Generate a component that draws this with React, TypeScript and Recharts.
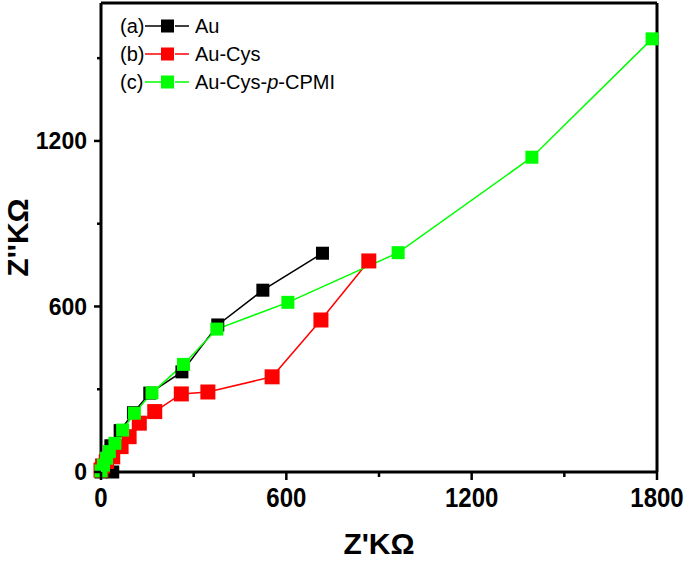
import React from 'react';
import { LineChart, Line, XAxis, YAxis, ReferenceLine } from 'recharts';

// Nyquist data (Z' vs Z'', kOhm)
const auX = [0, 38, 14, 32, 62, 105, 158, 262, 378, 524, 717];
const auY = [0, 0, 40, 95, 150, 215, 286, 363, 533, 659, 793];

const cysX = [0, 5, 18, 38, 65, 91, 124, 174, 260, 346, 554, 712, 867];
const cysY = [7, 22, 38, 55, 92, 128, 177, 219, 283, 290, 345, 551, 765];

const cpmiX = [0, 8, 18, 27, 45, 70, 108, 165, 267, 375, 605, 962, 1395, 1784];
const cpmiY = [4, 25, 50, 74, 104, 152, 213, 287, 390, 518, 615, 795, 1141, 1570];

const xTicks = [0, 300, 600, 900, 1200, 1500, 1800];
const xMajor = [0, 600, 1200, 1800];
const yTicks = [0, 300, 600, 900, 1200, 1500];
const yMajor = [0, 600, 1200];

const toPoints = (xs: number[], ys: number[]) => xs.map((x, i) => ({ x, y: ys[i] }));

const SERIES = [
    { key: 'au', tag: '(a)', name: 'Au', color: '#000000', size: 13, data: toPoints(auX, auY) },
    { key: 'cys', tag: '(b)', name: 'Au-Cys', color: '#ff0000', size: 15, data: toPoints(cysX, cysY) },
    { key: 'cpmi', tag: '(c)', name: 'Au-Cys-p-CPMI', color: '#00ff00', size: 13, data: toPoints(cpmiX, cpmiY) },
];

const FONT = '"Liberation Sans", Arial, sans-serif';

const squareDot = (color: string, size: number) => (props: any) => {
    const { cx, cy, index } = props;
    if (cx == null || cy == null) return <g key={`d-${index}`} />;
    return <rect key={`d-${index}`} x={cx - size / 2} y={cy - size / 2} width={size} height={size} fill={color} />;
};

const XTick = (props: any) => {
    const { x, y, payload } = props;
    const major = xMajor.includes(payload.value);
    return (
        <g>
            <line x1={x} x2={x} y1={y} y2={y + (major ? 8 : 5)} stroke="#000" strokeWidth={2.5} />
            {major && (
                <text
                    transform={`translate(${x},${y + 16}) scale(1,1.12)`}
                    dy="0.72em"
                    textAnchor="middle"
                    fontFamily={FONT}
                    fontWeight="bold"
                    fontSize={24}
                    fill="#000"
                >
                    {payload.value}
                </text>
            )}
        </g>
    );
};

const YTick = (props: any) => {
    const { x, y, payload } = props;
    const major = yMajor.includes(payload.value);
    return (
        <g>
            <line x1={x} x2={x - (major ? 7 : 4)} y1={y} y2={y} stroke="#000" strokeWidth={2.5} />
            {major && (
                <text
                    x={x - 14}
                    y={y}
                    dy="0.36em"
                    textAnchor="end"
                    fontFamily={FONT}
                    fontWeight="bold"
                    fontSize={23}
                    fill="#000"
                >
                    {payload.value}
                </text>
            )}
        </g>
    );
};

const XTitle = (props: any) => {
    const { viewBox } = props;
    return (
        <text
            x={viewBox.x + viewBox.width / 2}
            y={viewBox.y + viewBox.height - 8}
            textAnchor="middle"
            fontFamily={FONT}
            fontWeight="bold"
            fontSize={30}
            fill="#000"
        >
            Z'KΩ
        </text>
    );
};

const YTitle = (props: any) => {
    const { viewBox } = props;
    const cx = viewBox.x + 28;
    const cy = viewBox.y + viewBox.height / 2;
    return (
        <text
            x={cx}
            y={cy}
            transform={`rotate(-90, ${cx}, ${cy})`}
            textAnchor="middle"
            fontFamily={FONT}
            fontWeight="bold"
            fontSize={30}
            fill="#000"
        >
            Z''KΩ
        </text>
    );
};

const LegendBox = () => (
    <div style={{ position: 'absolute', left: 120, top: 12, fontFamily: FONT, fontSize: 20, color: '#000', lineHeight: '28px' }}>
        {SERIES.map((s) => (
            <div key={s.key} style={{ display: 'flex', alignItems: 'center', height: 28 }}>
                <span style={{ width: 25 }}>{s.tag}</span>
                <svg width={46} height={20} style={{ display: 'block' }}>
                    <line x1={0} x2={16} y1={10} y2={10} stroke={s.color} strokeWidth={1.5} />
                    <line x1={30} x2={44} y1={10} y2={10} stroke={s.color} strokeWidth={1.5} />
                    <rect x={16} y={3.5} width={13} height={13} fill={s.color} />
                </svg>
                <span style={{ marginLeft: 4 }}>
                    {s.key === 'cpmi' ? (
                        <>
                            Au-Cys-<i>p</i>-CPMI
                        </>
                    ) : (
                        s.name
                    )}
                </span>
            </div>
        ))}
    </div>
);

export default function App() {
    return (
        <div style={{ position: 'absolute', left: 0, top: 0, width: 685, height: 562, background: '#fff' }}>
            <LineChart width={685} height={562} margin={{ top: 3, right: 28, bottom: 0, left: 0 }}>
                <XAxis
                    dataKey="x"
                    type="number"
                    domain={[0, 1800]}
                    ticks={xTicks}
                    interval={0}
                    height={90}
                    tickSize={0}
                    tickMargin={0}
                    tickLine={false}
                    tick={<XTick />}
                    axisLine={{ stroke: '#000', strokeWidth: 3 }}
                    label={<XTitle />}
                />
                <YAxis
                    dataKey="y"
                    type="number"
                    domain={[0, 1700]}
                    ticks={yTicks}
                    interval={0}
                    width={101}
                    tickSize={0}
                    tickMargin={0}
                    tickLine={false}
                    tick={<YTick />}
                    axisLine={{ stroke: '#000', strokeWidth: 3 }}
                    label={<YTitle />}
                />
                <ReferenceLine y={1700} stroke="#000" strokeWidth={3} />
                <ReferenceLine x={1800} stroke="#000" strokeWidth={3} />
                {SERIES.map((s) => (
                    <Line
                        key={s.key}
                        data={s.data}
                        dataKey="y"
                        name={s.name}
                        stroke={s.color}
                        strokeWidth={1.5}
                        dot={squareDot(s.color, s.size)}
                        activeDot={false}
                        isAnimationActive={false}
                    />
                ))}
            </LineChart>
            <LegendBox />
        </div>
    );
}
